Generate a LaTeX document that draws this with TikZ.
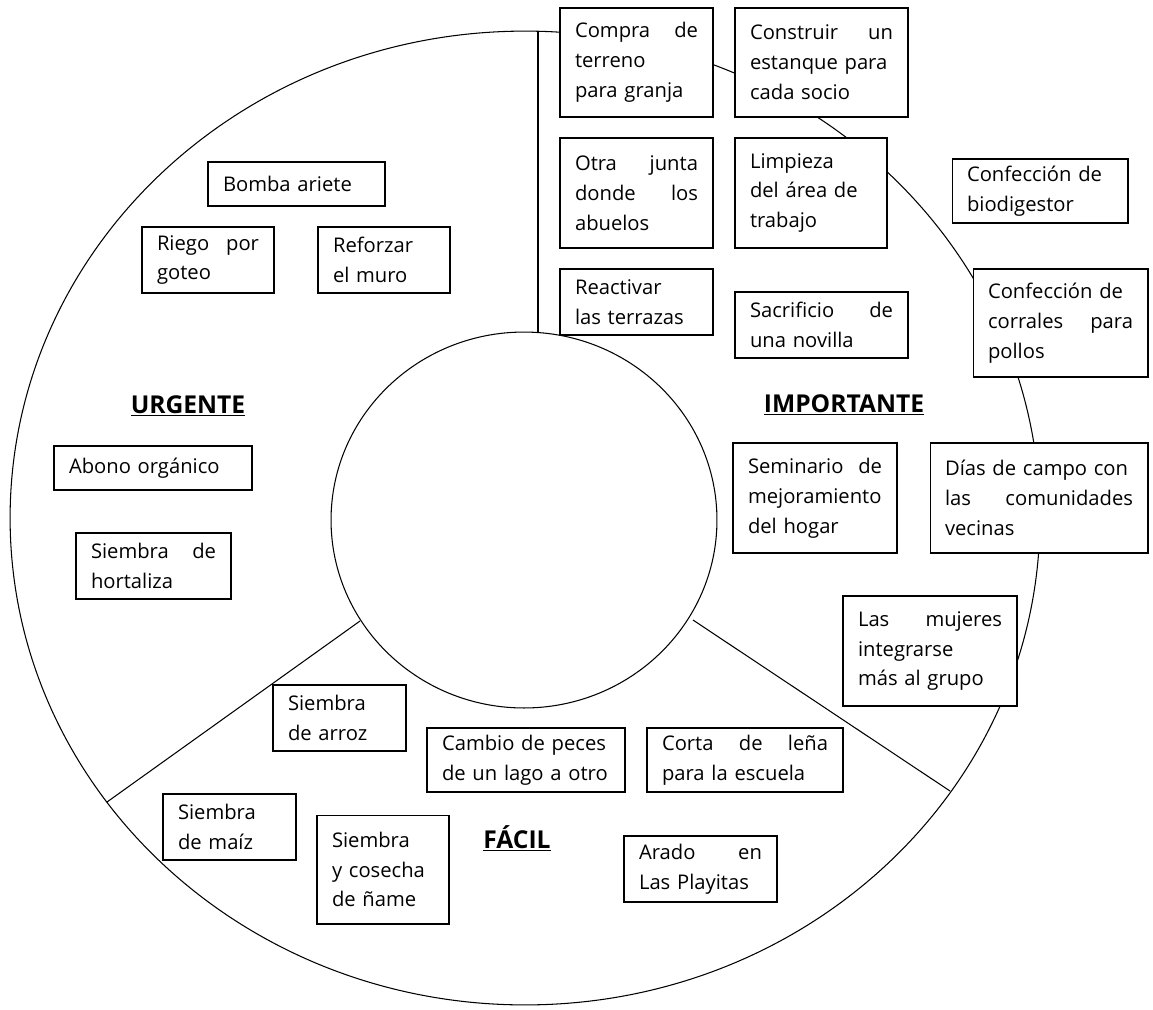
\documentclass[tikz,border=0pt]{standalone}
\usepackage{fontspec}
\setmainfont{Open Sans}

\begin{document}
\begin{tikzpicture}[x=0.02cm, y=-0.02cm, line width=0.6pt,
    item/.style={draw, fill=white, inner xsep=0.3cm, inner ysep=0pt, align=left, font=\fontsize{11.5}{17}\selectfont},
    heading/.style={anchor=base, font=\fontsize{14}{17}\selectfont\bfseries}]
             \useasboundingbox (0,0) rectangle (1153,1009);
             \draw (525,518) ellipse [x radius=10.3cm, y radius=9.74cm];
             \draw (524,520) ellipse [x radius=3.86cm, y radius=3.76cm];
             \coordinate (topout) at (538,31);
             \coordinate (topin) at (538,333);
             \coordinate (leftin) at (360,621);
             \coordinate (leftout) at (107,802);
             \coordinate (rightin) at (693,620);
             \coordinate (rightout) at (950,791);
             \draw (topout) -- (topin);
             \draw (leftin) -- (leftout);
             \draw (rightin) -- (rightout);
             \node[heading] (urgente) at (188,413) {\underline{URGENTE}};
             \node[heading] (importante) at (844,412) {\underline{IMPORTANTE}};
             \node[heading] (facil) at (517,848) {\underline{FÁCIL}};
             \node[item, text width=2.46cm, minimum height=2.18cm] (compra) at (636.5,62.5) {Compra\hfill de\\terreno\\para granja};
             \node[item, text width=2.86cm, minimum height=2.18cm] (estanque) at (821.5,62.5) {Construir\hfill un\\estanque para\\cada socio};
             \node[item, text width=2.46cm, minimum height=2.2cm] (abuelos) at (636.5,193) {Otra\hfill junta\\donde\hfill los\\abuelos};
             \node[item, text width=2.44cm, minimum height=2.2cm] (limpieza) at (811,193) {Limpieza\\del área de\\trabajo};
             \node[item, text width=2.46cm, minimum height=1.32cm] (terrazas) at (636.5,302) {Reactivar\\las terrazas};
             \node[item, text width=2.86cm, minimum height=1.32cm] (novilla) at (821.5,325) {Sacrificio\hfill de\\una novilla};
             \node[item, text width=2.92cm, minimum height=1.28cm] (biodigestor) at (1040,191) {Confección de\\biodigestor};
             \node[item, text width=2.9cm, minimum height=2.16cm] (corrales) at (1060.5,323) {Confección de\\corrales\hfill para\\pollos};
             \node[item, text width=2.68cm, minimum height=2.2cm] (seminario) at (815,498) {Seminario\hfill de\\mejoramiento\\del hogar};
             \node[item, text width=3.76cm, minimum height=2.2cm] (campo) at (1039,498) {Días de campo con\\las\hfill comunidades\\vecinas};
             \node[item, text width=2.88cm, minimum height=2.2cm] (mujeres) at (930,651) {Las\hfill mujeres\\integrarse\\más al grupo};
             \node[item, text width=3.32cm, minimum height=1.28cm] (lena) at (745,760) {Corta\hfill de\hfill leña\\para la escuela};
             \node[item, text width=3.36cm, minimum height=1.28cm] (peces) at (526,760) {Cambio de peces\\de un lago a otro};
             \node[item, text width=2.46cm, minimum height=1.32cm] (arado) at (700.5,869) {Arado\hfill en\\Las Playitas};
             \node[item, text width=2.06cm, minimum height=1.32cm] (arroz) at (339.5,718) {Siembra\\de arroz};
             \node[item, text width=2.06cm, minimum height=1.32cm] (maiz) at (229.5,827) {Siembra\\de maíz};
             \node[item, text width=2.04cm, minimum height=2.18cm] (name) at (383,869.5) {Siembra\\y cosecha\\de ñame};
             \node[item, text width=3.36cm, minimum height=0.88cm] (abono) at (153,468) {Abono orgánico};
             \node[item, text width=2.5cm, minimum height=1.32cm] (hortaliza) at (153.5,566) {Siembra\hfill de\\hortaliza};
             \node[item, text width=2.94cm, minimum height=0.88cm] (bomba) at (296.5,184) {Bomba ariete};
             \node[item, text width=2.04cm, minimum height=1.32cm] (riego) at (208,260) {Riego\hfill por\\goteo};
             \node[item, text width=2.04cm, minimum height=1.32cm] (muro) at (384,260) {Reforzar\\el muro};
         \end{tikzpicture}
\end{document}
